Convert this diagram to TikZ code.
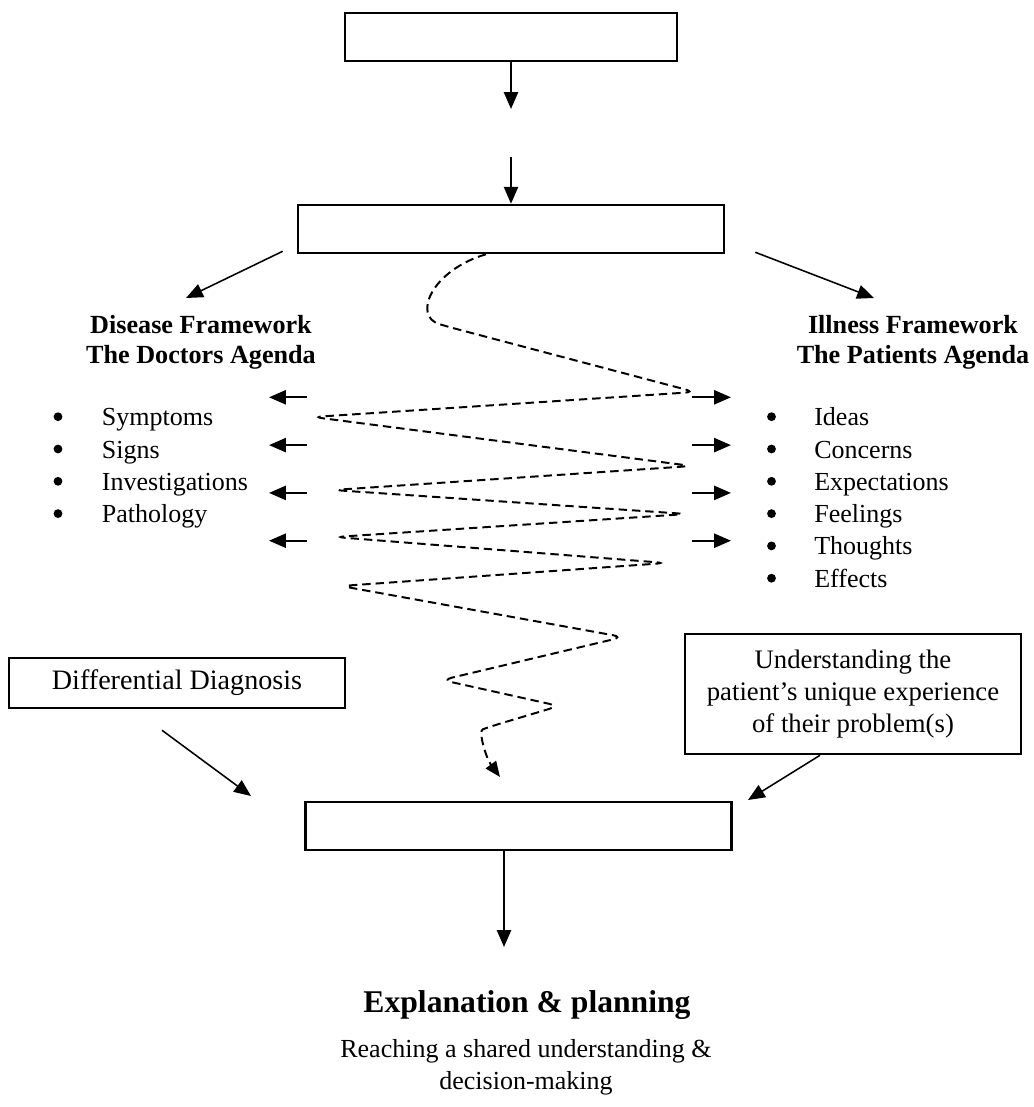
\documentclass[tikz,border=0pt]{standalone}
\usepackage{fontspec}
\setmainfont{Liberation Serif}
\usetikzlibrary{arrows.meta,calc}
\tikzstyle{stagebox}=[draw,line width=1.8pt,inner sep=0pt]
\tikzstyle{arr}=[line width=1.5pt,-{Triangle[length=12pt,width=10pt]}]
\tikzstyle{thinarr}=[line width=1.1pt,-{Triangle[length=12pt,width=10pt]}]
\tikzstyle{wiggle}=[line width=1.4pt,dash pattern=on 6pt off 3.5pt,rounded corners=7pt,-{Triangle[length=11pt,width=9pt]}]
\tikzstyle{body}=[inner sep=0pt,font=\fontsize{18.5}{23}\selectfont]
\tikzstyle{head}=[inner sep=0pt,font=\fontsize{18.6}{21.5}\selectfont\bfseries,align=center]
\tikzstyle{dot}=[circle,fill,inner sep=0pt,minimum size=0.22cm]

\begin{document}
\begin{tikzpicture}[x=0.025cm,y=-0.025cm]
	\useasboundingbox (0,0) rectangle (1034,1107);
	% empty boxes down the middle
	\node[stagebox,minimum width=8.3cm,minimum height=1.2cm] (top) at (511,37) {};
	\node[stagebox,minimum width=10.65cm,minimum height=1.2cm] (mid) at (511,229) {};
	\node[stagebox,minimum width=10.65cm,minimum height=1.2cm] (bot) at (518.7,826) {};
	\coordinate (gapA) at (511,109);
	\coordinate (gapB) at (511,157);
	\draw[arr] (top.south) -- (gapA);
	\draw[arr] (gapB) -- (mid.north);
	% the two agendas
	\node[head] (dhead) at (201,342) {Disease Framework\\The Doctors Agenda};
	\node[head] (ihead) at (913,342) {Illness Framework\\The Patients Agenda};
	\coordinate (dtip) at (186,298);
	\coordinate (itip) at (874,298);
	\draw[thinarr] ($(mid.south west)+(-14,-3)$) -- (dtip);
	\draw[thinarr] ($(mid.south east)+(30,-2)$) -- (itip);
	% lists
	\foreach \txt [count=\i] in {Symptoms,Signs,Investigations,Pathology} {
		\node[dot] (ddot\i) at (58,{416.7+32.3*(\i-1)}) {};
		\node[body,anchor=base west] (dis\i) at (101.7,{425.7+32.3*(\i-1)}) {\txt};
	}
	\foreach \txt [count=\i] in {Ideas,Concerns,Expectations,Feelings,Thoughts,Effects} {
		\node[dot] (idot\i) at (771.5,{416.7+32.3*(\i-1)}) {};
		\node[body,anchor=base west] (ill\i) at (814,{425.7+32.3*(\i-1)}) {\txt};
	}
	% short arrows either side
	\foreach \i in {1,...,4} {
		\coordinate (la\i) at (307,{397.3+47.8*(\i-1)});
		\coordinate (lb\i) at (269,{397.3+47.8*(\i-1)});
		\coordinate (ra\i) at (692,{397.3+47.8*(\i-1)});
		\coordinate (rb\i) at (731,{397.3+47.8*(\i-1)});
		\draw[arr] (la\i) -- (lb\i);
		\draw[arr] (ra\i) -- (rb\i);
	}
	% dashed zigzag
	\coordinate (wstart) at ($(mid.south)+(-25,0)$);
	\coordinate (wend) at (500,777);
	\draw[wiggle] (wstart) .. controls (432,270) and (412,316) .. (449,327) -- (695,392) -- (313,417)
		-- (692,466) -- (333,490) -- (687,514) -- (335,537) -- (666,563) -- (341,586)
		-- (623,637) -- (442,680) -- (559,706) -- (492,726) .. controls (478,731) and (486,758) .. (wend);
	% side boxes
	\node[stagebox,inner sep=0pt,font=\fontsize{20}{23}\selectfont,minimum width=8.4cm,minimum height=1.25cm] (diff) at (177,683) {Differential Diagnosis};
	\node[stagebox,inner sep=0pt,font=\fontsize{19}{22.5}\selectfont,align=center,minimum width=8.4cm,minimum height=3cm] (und) at (853,694) {Understanding the\\patient's unique experience\\of their problem(s)};
	\coordinate (dend) at (251,796);
	\coordinate (uend) at (748,800);
	\draw[thinarr] ($(diff.south)+(-15,21)$) -- (dend);
	\draw[thinarr] ($(und.south)+(-33,0)$) -- (uend);
	% outcome
	\coordinate (etip) at (504,947);
	\draw[arr] ($(bot.south)+(-14.7,0)$) -- (etip);
	\node[inner sep=0pt,font=\fontsize{22.5}{27}\selectfont\bfseries,anchor=base] (expl) at (527,1012) {Explanation \& planning};
	\node[body,align=center] (reach) at (526,1067.5) {Reaching a shared understanding \&\\decision-making};
\end{tikzpicture}
\end{document}
